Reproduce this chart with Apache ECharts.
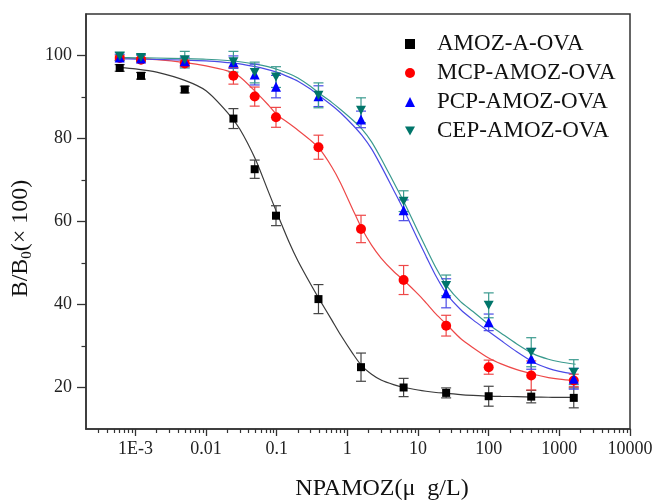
<!DOCTYPE html>
<html>
<head>
<meta charset="utf-8">
<script src="https://cdn.jsdelivr.net/npm/echarts@6/dist/echarts.min.js"></script>
<style>
html,body{margin:0;padding:0;background:#fff;}
#chart{width:655px;height:501px;}
</style>
</head>
<body>
<div id="chart"></div>
<script>
// ---- data ----
const seriesNames = ['AMOZ-A-OVA', 'MCP-AMOZ-OVA', 'PCP-AMOZ-OVA', 'CEP-AMOZ-OVA'];
const concentrations = [0.0006, 0.0012, 0.005, 0.0244, 0.0488, 0.0977, 0.39, 1.56, 6.25, 25, 100, 400, 1600];

const amozA = [97.0, 95.1, 91.8, 84.8, 72.6, 61.4, 41.3, 24.9, 20.0, 18.7, 17.9, 17.8, 17.5];
const amozAErr = [0.8, 0.8, 0.8, 2.4, 2.2, 2.4, 3.5, 3.4, 2.2, 1.2, 2.4, 1.5, 2.4];
const mcp = [99.4, 99.0, 98.1, 95.1, 90.1, 85.1, 77.9, 58.2, 45.9, 34.9, 24.9, 22.9, 21.7];
const mcpErr = [0.5, 0.5, 0.8, 2.0, 2.3, 2.4, 2.9, 3.3, 3.5, 2.5, 1.7, 3.5, 1.5];
const pcp = [99.5, 99.3, 98.6, 98.4, 95.4, 92.5, 90.2, 84.6, 62.7, 42.7, 35.7, 26.9, 22.1];
const pcpErr = [0.8, 0.8, 1.0, 1.5, 2.5, 2.7, 2.5, 2.0, 2.5, 3.5, 2.0, 2.5, 2.5];
const cep = [99.8, 99.5, 99.0, 98.5, 95.9, 94.8, 90.4, 86.8, 64.9, 44.6, 39.8, 28.5, 23.7];
const cepErr = [1.0, 0.8, 2.0, 2.5, 2.5, 2.5, 3.0, 3.0, 2.5, 2.5, 3.0, 3.5, 3.0];

// fitted curves
const curveX = [0.0006, 0.001, 0.002, 0.005, 0.01, 0.02, 0.03, 0.05, 0.075, 0.1, 0.15, 0.2, 0.3, 0.4, 0.6, 0.8, 1.2, 1.6, 2.2, 3, 4.5, 6.5, 10, 13, 18, 26, 40, 60, 100, 150, 250, 430, 700, 1000, 1700];
const amozACurve = [97.1, 96.8, 96.0, 94.0, 91.5, 86.3, 82.3, 75.0, 67.5, 62.2, 55.0, 50.5, 45.0, 41.3, 36.3, 32.7, 28.1, 25.2, 23.2, 21.8, 20.7, 20.0, 19.4, 19.1, 18.8, 18.6, 18.3, 18.1, 17.9, 17.85, 17.8, 17.7, 17.65, 17.6, 17.6];
const mcpCurve = [99.4, 99.3, 99.0, 98.3, 97.5, 96.3, 94.9, 91.3, 88.2, 85.8, 83.6, 82.0, 79.6, 77.6, 73.2, 69.3, 62.8, 58.3, 54.3, 51.2, 48.0, 45.6, 42.5, 40.4, 37.7, 35.0, 31.8, 29.6, 27.1, 25.7, 24.3, 23.2, 22.4, 22.0, 21.6];
const pcpCurve = [99.2, 99.15, 99.05, 98.9, 98.7, 98.3, 98.0, 97.3, 96.6, 96.0, 94.8, 93.8, 91.9, 90.3, 88.0, 86.2, 83.2, 80.8, 77.5, 73.4, 67.6, 62.3, 55.6, 51.6, 46.8, 42.3, 38.8, 36.3, 33.5, 31.3, 28.6, 26.1, 24.6, 23.9, 23.2];
const cepCurve = [99.5, 99.45, 99.4, 99.25, 99.1, 98.8, 98.5, 97.9, 97.3, 96.7, 95.6, 94.6, 92.6, 90.9, 88.7, 87.0, 84.4, 82.3, 79.2, 75.2, 69.5, 64.3, 57.6, 53.6, 48.8, 44.3, 40.7, 38.3, 35.2, 33.1, 30.5, 28.1, 26.8, 26.2, 25.6];

const xTickValues = [0.001, 0.01, 0.1, 1, 10, 100, 1000, 10000];
const xTickLabels = ['1E-3', '0.01', '0.1', '1', '10', '100', '1000', '10000'];
const yTickValues = [20, 40, 60, 80, 100];
const yMinorTicks = [30, 50, 70, 90];

// ---- styles ----
const markerColors = ['#000000', '#ff0000', '#0000ff', '#00756a'];
const curveColors = ['#3a3a3a', '#ee4848', '#4a4ae6', '#3a9a8e'];
const symbols = ['rect', 'circle', 'triangle', 'path://M0,0 L10,0 L5,9 Z'];
const symbolSizes = [8, 10, 10, [10, 9]];
const FONT = '"Liberation Serif", "Times New Roman", serif';

const xMinorTicks = [];
for (let k = -4; k <= 3; k++) {
  for (let m = 2; m <= 9; m++) {
    const v = m * Math.pow(10, k);
    if (v > 0.0002 && v < 10000) xMinorTicks.push(v);
  }
}

const ys = [amozA, mcp, pcp, cep];
const errs = [amozAErr, mcpErr, pcpErr, cepErr];
const curves = [amozACurve, mcpCurve, pcpCurve, cepCurve];

const series = [];
curves.forEach((c, i) => {
  series.push({
    type: 'line', silent: true, showSymbol: false, smooth: 0.25,
    xAxisIndex: 0, yAxisIndex: 0, z: 2,
    data: curveX.map((x, j) => [x, c[j]]),
    lineStyle: { color: curveColors[i], width: 1.2 }
  });
});
errs.forEach((e, i) => {
  const col = i === 0 ? '#444' : curveColors[i];
  series.push({
    type: 'custom', silent: true, xAxisIndex: 0, yAxisIndex: 0, z: 3,
    data: concentrations.map((x, j) => [x, ys[i][j], e[j]]),
    encode: { x: 0, y: 1 },
    renderItem: function (params, api) {
      const x = api.value(0), y = api.value(1), d = api.value(2);
      const t = api.coord([x, y + d]);
      const b = api.coord([x, y - d]);
      const w = 5;
      const st = { stroke: col, lineWidth: 1.2 };
      return {
        type: 'group', children: [
          { type: 'line', shape: { x1: t[0], y1: t[1], x2: b[0], y2: b[1] }, style: st },
          { type: 'line', shape: { x1: t[0] - w, y1: t[1], x2: t[0] + w, y2: t[1] }, style: st },
          { type: 'line', shape: { x1: b[0] - w, y1: b[1], x2: b[0] + w, y2: b[1] }, style: st }
        ]
      };
    }
  });
});
ys.forEach((y, i) => {
  series.push({
    name: seriesNames[i], type: 'scatter', xAxisIndex: 0, yAxisIndex: 0, z: 4 + i,
    symbol: symbols[i], symbolSize: symbolSizes[i],
    itemStyle: { color: markerColors[i], opacity: 1 },
    data: concentrations.map((x, j) => [x, y[j]])
  });
});

const chart = echarts.init(document.getElementById('chart'), null, { renderer: 'canvas' });
chart.setOption({
  animation: false,
  backgroundColor: '#fff',
  textStyle: { fontFamily: FONT },
  grid: {
    left: 86, top: 14, right: 25, bottom: 72, containLabel: false, outerBoundsMode: 'none',
    show: true, borderColor: '#333', borderWidth: 1.5, backgroundColor: 'transparent'
  },
  legend: {
    data: seriesNames, orient: 'vertical', left: 400, top: 27,
    itemWidth: 10, itemHeight: 10, itemGap: 5,
    textStyle: { fontFamily: FONT, fontSize: 23, color: '#111', lineHeight: 24, padding: [0, 0, 0, 17] }
  },
  xAxis: [{
    type: 'log', logBase: 10, min: 0.0002, max: 10000,
    name: 'NPAMOZ(μ  g/L)', nameLocation: 'middle', nameGap: 48,
    nameTextStyle: { fontFamily: FONT, fontSize: 24, color: '#111', padding: [0, 0, 0, 48] },
    axisLine: { show: true, lineStyle: { color: '#333', width: 1.5 } },
    axisTick: { show: true, inside: false, length: 7, customValues: xTickValues, lineStyle: { color: '#333', width: 1.3 } },
    axisLabel: {
      show: true, margin: 11, fontFamily: FONT, fontSize: 18, color: '#222',
      customValues: xTickValues,
      formatter: function (v) {
        const i = xTickValues.findIndex(t => Math.abs(Math.log10(t) - Math.log10(v)) < 1e-6);
        return i >= 0 ? xTickLabels[i] : '';
      }
    },
    splitLine: { show: false }, minorTick: { show: false }
  }, {
    type: 'log', logBase: 10, min: 0.0002, max: 10000, position: 'bottom', gridIndex: 0,
    axisLine: { show: false },
    axisTick: { show: true, length: 4, customValues: xMinorTicks, lineStyle: { color: '#333', width: 1.2 } },
    axisLabel: { show: false, customValues: xMinorTicks },
    splitLine: { show: false }
  }],
  yAxis: [{
    type: 'value', min: 10, max: 110,
    name: 'B/B{sub|0}(× 100)', nameLocation: 'middle', nameGap: 46,
    nameTextStyle: {
      fontFamily: FONT, fontSize: 24, color: '#111', padding: [0, 34, 0, 0],
      rich: { sub: { fontFamily: FONT, fontSize: 15, padding: [12, 0, 0, 0] } }
    },
    axisLine: { show: true, lineStyle: { color: '#333', width: 1.5 } },
    axisTick: { show: true, length: 9, customValues: yTickValues, lineStyle: { color: '#333', width: 1.3 } },
    axisLabel: { show: true, margin: 14, fontFamily: FONT, fontSize: 18, color: '#222', customValues: yTickValues },
    splitLine: { show: false }
  }, {
    type: 'value', min: 10, max: 110, position: 'left', gridIndex: 0,
    axisLine: { show: false },
    axisTick: { show: true, length: 4.5, customValues: yMinorTicks, lineStyle: { color: '#333', width: 1.2 } },
    axisLabel: { show: false, customValues: yMinorTicks },
    splitLine: { show: false }
  }],
  series: series
});
</script>
</body>
</html>
